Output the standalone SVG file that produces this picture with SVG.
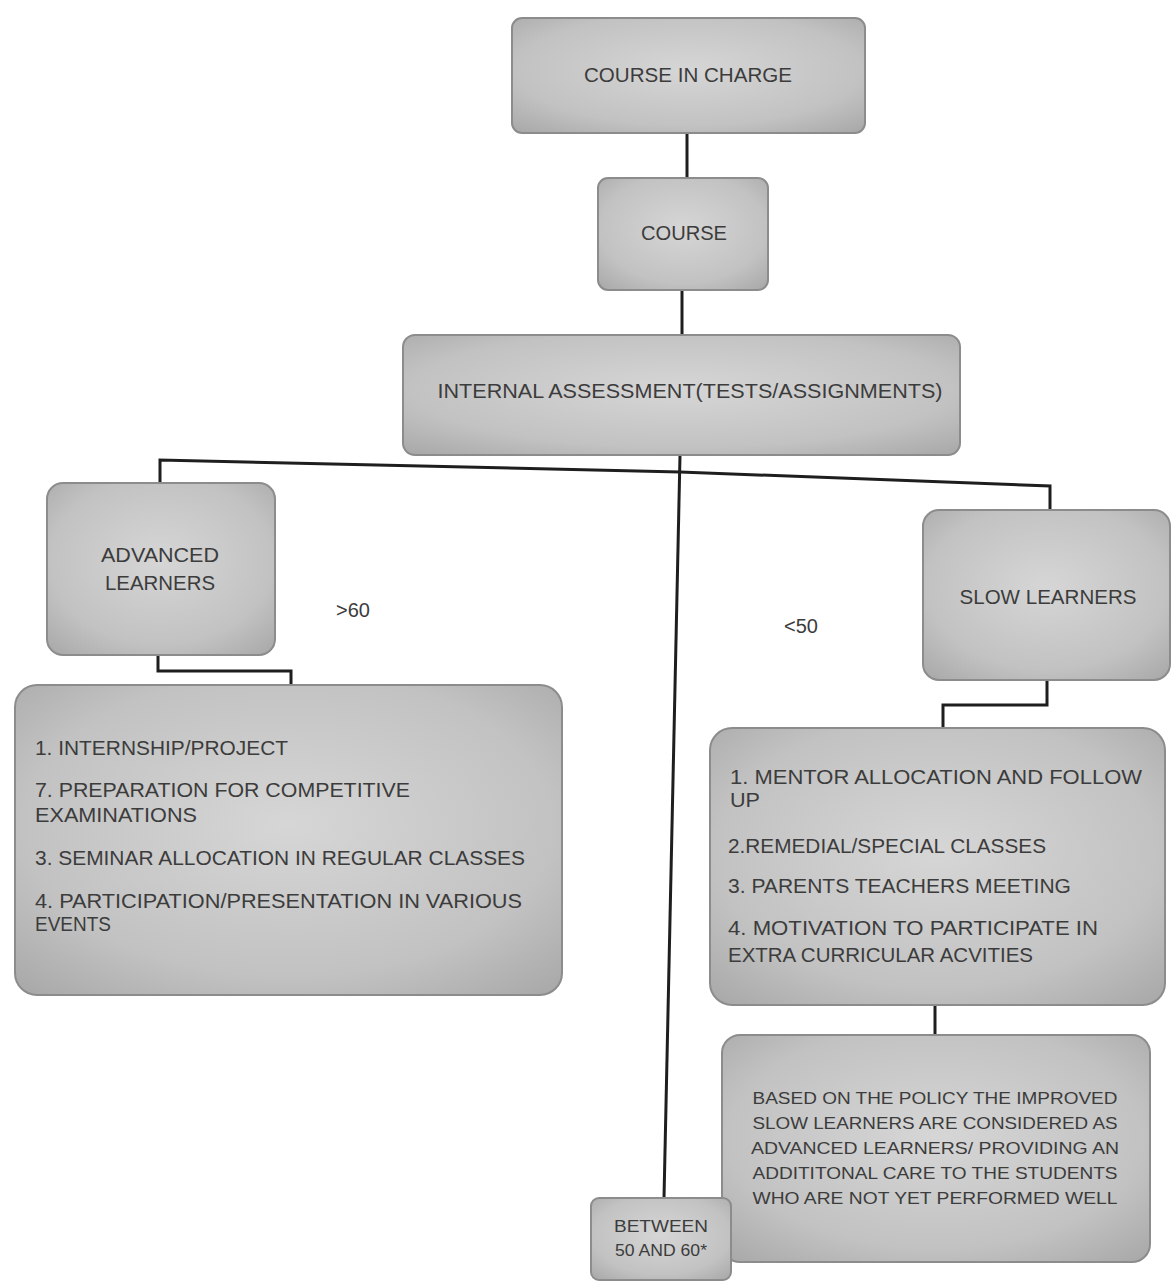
<svg xmlns="http://www.w3.org/2000/svg" width="1173" height="1282" viewBox="0 0 1173 1282">
<style>
.box{fill:url(#g);stroke:#8c8c8c;stroke-width:2}
.t{font-family:"Liberation Sans",Arial,sans-serif;fill:#3c3c3c;font-size:20px}
.c{text-anchor:middle}
.s{font-size:17px}
.ln{stroke:#1e1e1e;stroke-width:3;fill:none}
</style>
<defs>
<radialGradient id="g" cx="50%" cy="45%" r="75%">
<stop offset="0" stop-color="#d6d6d6"/>
<stop offset="0.65" stop-color="#c2c2c2"/>
<stop offset="1" stop-color="#a6a6a6"/>
</radialGradient>
</defs>
<rect width="1173" height="1282" fill="#ffffff"/>
<g id="connectors">
<path class="ln" d="M687 133 V178"/>
<path class="ln" d="M682 290 V335"/>
<path class="ln" d="M160 483 V460 L680 472 L1050 486 V510"/>
<path class="ln" d="M680 455 L664 1198" stroke-width="2.5"/>
<path class="ln" d="M158 655 V671 H291 V685"/>
<path class="ln" d="M1047 680 V705 H943 V728"/>
<path class="ln" d="M935 1005 V1035"/>
</g>
<g id="course-in-charge">
<rect class="box" x="512" y="18" width="353" height="115" rx="10"/>
<text class="t c" x="688" y="82" textLength="208" lengthAdjust="spacingAndGlyphs">COURSE IN CHARGE</text>
</g>
<g id="course">
<rect class="box" x="598" y="178" width="170" height="112" rx="10"/>
<text class="t c" x="684" y="240" textLength="86" lengthAdjust="spacingAndGlyphs">COURSE</text>
</g>
<g id="internal-assessment">
<rect class="box" x="403" y="335" width="557" height="120" rx="12"/>
<text class="t c" x="690" y="398" textLength="505" lengthAdjust="spacingAndGlyphs">INTERNAL ASSESSMENT(TESTS/ASSIGNMENTS)</text>
</g>
<g id="advanced-learners">
<rect class="box" x="47" y="483" width="228" height="172" rx="16"/>
<text class="t c" x="160" y="562" textLength="118" lengthAdjust="spacingAndGlyphs">ADVANCED</text>
<text class="t c" x="160" y="590" textLength="110" lengthAdjust="spacingAndGlyphs">LEARNERS</text>
</g>
<g id="label-gt60">
<text class="t c" x="353" y="617">&gt;60</text>
</g>
<g id="label-lt50">
<text class="t c" x="801" y="633">&lt;50</text>
</g>
<g id="slow-learners">
<rect class="box" x="923" y="510" width="247" height="170" rx="16"/>
<text class="t c" x="1048" y="604" textLength="177" lengthAdjust="spacingAndGlyphs">SLOW LEARNERS</text>
</g>
<g id="advanced-list">
<rect class="box" x="15" y="685" width="547" height="310" rx="22"/>
<text class="t" x="35" y="755" textLength="253" lengthAdjust="spacingAndGlyphs">1. INTERNSHIP/PROJECT</text>
<text class="t" x="35" y="797" textLength="375" lengthAdjust="spacingAndGlyphs">7. PREPARATION FOR COMPETITIVE</text>
<text class="t" x="35" y="822" textLength="162" lengthAdjust="spacingAndGlyphs">EXAMINATIONS</text>
<text class="t" x="35" y="865" textLength="490" lengthAdjust="spacingAndGlyphs">3. SEMINAR ALLOCATION IN REGULAR CLASSES</text>
<text class="t" x="35" y="908" textLength="487" lengthAdjust="spacingAndGlyphs">4. PARTICIPATION/PRESENTATION IN VARIOUS</text>
<text class="t" x="35" y="931" textLength="76" lengthAdjust="spacingAndGlyphs">EVENTS</text>
</g>
<g id="slow-list">
<rect class="box" x="710" y="728" width="455" height="277" rx="22"/>
<text class="t" x="730" y="784" textLength="412" lengthAdjust="spacingAndGlyphs">1. MENTOR ALLOCATION AND FOLLOW</text>
<text class="t" x="730" y="807" textLength="30" lengthAdjust="spacingAndGlyphs">UP</text>
<text class="t" x="728" y="853" textLength="318" lengthAdjust="spacingAndGlyphs">2.REMEDIAL/SPECIAL CLASSES</text>
<text class="t" x="728" y="893" textLength="343" lengthAdjust="spacingAndGlyphs">3. PARENTS TEACHERS MEETING</text>
<text class="t" x="728" y="935" textLength="370" lengthAdjust="spacingAndGlyphs">4. MOTIVATION TO PARTICIPATE IN</text>
<text class="t" x="728" y="962" textLength="305" lengthAdjust="spacingAndGlyphs">EXTRA CURRICULAR ACVITIES</text>
</g>
<g id="policy-note">
<rect class="box" x="722" y="1035" width="428" height="227" rx="18"/>
<text class="t s c" x="935" y="1104" textLength="365" lengthAdjust="spacingAndGlyphs">BASED ON THE POLICY THE IMPROVED</text>
<text class="t s c" x="935" y="1129" textLength="365" lengthAdjust="spacingAndGlyphs">SLOW LEARNERS ARE CONSIDERED AS</text>
<text class="t s c" x="935" y="1154" textLength="368" lengthAdjust="spacingAndGlyphs">ADVANCED LEARNERS/ PROVIDING AN</text>
<text class="t s c" x="935" y="1179" textLength="365" lengthAdjust="spacingAndGlyphs">ADDITITONAL CARE TO THE STUDENTS</text>
<text class="t s c" x="935" y="1204" textLength="365" lengthAdjust="spacingAndGlyphs">WHO ARE NOT YET PERFORMED WELL</text>
</g>
<g id="between-50-60">
<rect class="box" x="591" y="1198" width="140" height="82" rx="8"/>
<text class="t s c" x="661" y="1232" textLength="94" lengthAdjust="spacingAndGlyphs">BETWEEN</text>
<text class="t s c" x="661" y="1256" textLength="92" lengthAdjust="spacingAndGlyphs">50 AND 60*</text>
</g>
</svg>
